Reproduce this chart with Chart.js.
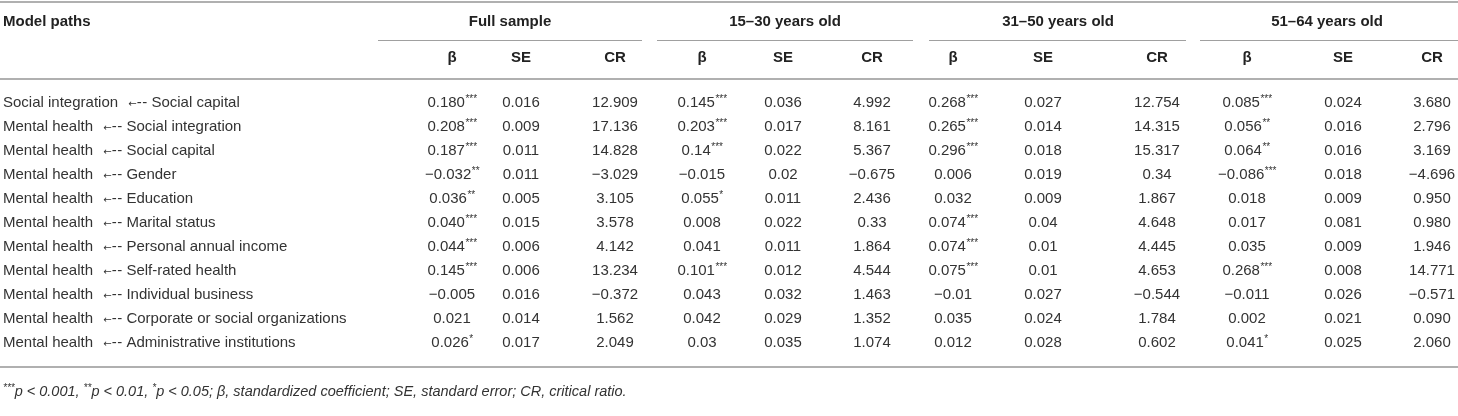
<!DOCTYPE html>
<html>
<head>
<meta charset="utf-8">
<script src="https://cdn.jsdelivr.net/npm/chart.js@4/dist/chart.umd.min.js"></script>
<style>
  body { margin: 0; background: #fff; }
  canvas { display: block; }
</style>
</head>
<body>
<canvas id="table" width="1458" height="416"></canvas>
<script>
// --- table content ---
const pathLabels = [
  'Social integration ←-- Social capital',
  'Mental health ←-- Social integration',
  'Mental health ←-- Social capital',
  'Mental health ←-- Gender',
  'Mental health ←-- Education',
  'Mental health ←-- Marital status',
  'Mental health ←-- Personal annual income',
  'Mental health ←-- Self-rated health',
  'Mental health ←-- Individual business',
  'Mental health ←-- Corporate or social organizations',
  'Mental health ←-- Administrative institutions'
];
const groupNames = ['Full sample', '15–30 years old', '31–50 years old', '51–64 years old'];
const subHeads = ['β', 'SE', 'CR'];

const fullBeta = ['0.180***', '0.208***', '0.187***', '−0.032**', '0.036**', '0.040***', '0.044***', '0.145***', '−0.005', '0.021', '0.026*'];
const fullSE   = ['0.016', '0.009', '0.011', '0.011', '0.005', '0.015', '0.006', '0.006', '0.016', '0.014', '0.017'];
const fullCR   = ['12.909', '17.136', '14.828', '−3.029', '3.105', '3.578', '4.142', '13.234', '−0.372', '1.562', '2.049'];

const youngBeta = ['0.145***', '0.203***', '0.14***', '−0.015', '0.055*', '0.008', '0.041', '0.101***', '0.043', '0.042', '0.03'];
const youngSE   = ['0.036', '0.017', '0.022', '0.02', '0.011', '0.022', '0.011', '0.012', '0.032', '0.029', '0.035'];
const youngCR   = ['4.992', '8.161', '5.367', '−0.675', '2.436', '0.33', '1.864', '4.544', '1.463', '1.352', '1.074'];

const midBeta = ['0.268***', '0.265***', '0.296***', '0.006', '0.032', '0.074***', '0.074***', '0.075***', '−0.01', '0.035', '0.012'];
const midSE   = ['0.027', '0.014', '0.018', '0.019', '0.009', '0.04', '0.01', '0.01', '0.027', '0.024', '0.028'];
const midCR   = ['12.754', '14.315', '15.317', '0.34', '1.867', '4.648', '4.445', '4.653', '−0.544', '1.784', '0.602'];

const oldBeta = ['0.085***', '0.056**', '0.064**', '−0.086***', '0.018', '0.017', '0.035', '0.268***', '−0.011', '0.002', '0.041*'];
const oldSE   = ['0.024', '0.016', '0.016', '0.018', '0.009', '0.081', '0.009', '0.008', '0.026', '0.021', '0.025'];
const oldCR   = ['3.680', '2.796', '3.169', '−4.696', '0.950', '0.980', '1.946', '14.771', '−0.571', '0.090', '2.060'];

const footnote = '***p < 0.001, **p < 0.01, *p < 0.05; β, standardized coefficient; SE, standard error; CR, critical ratio.';

// --- layout (x in scale units across the width, y in row units) ---
const columns = [fullBeta, fullSE, fullCR, youngBeta, youngSE, youngCR, midBeta, midSE, midCR, oldBeta, oldSE, oldCR];
const colX = [452, 521, 615, 702, 783, 872, 953, 1043, 1157, 1247, 1343, 1432];
const groupX = [510, 785, 1058, 1327];
const groupSpan = [[378, 642], [657, 913], [929, 1186], [1200, 1458]];
const labelX = 3;
const headRow1 = -3.375, headRow2 = -1.875, footRow = 12.04;

const FONT = '"Liberation Sans", Arial, Helvetica, sans-serif';

const cellData = [];
columns.forEach((col, c) => col.forEach((t, r) => cellData.push({ x: colX[c], y: r, t: t })));

const rules = [
  { y: -4.21, x0: 0, x1: 1458, w: 2, color: '#b0b0b0' },
  { y: -1.0, x0: 0, x1: 1458, w: 2, color: '#b0b0b0' },
  { y: 11.0, x0: 0, x1: 1458, w: 2, color: '#b0b0b0' }
].concat(groupSpan.map(s => ({ y: -2.625, x0: s[0], x1: s[1], w: 1, color: '#a0a0a0' })));

// path label: small arrow head at dash height, then two spaced dashes
function drawPath(ctx, text, x, y, opt) {
  const parts = text.split('←--');
  const font = opt.size + 'px ' + FONT;
  ctx.fillStyle = opt.color;
  ctx.textAlign = 'left';
  ctx.textBaseline = 'middle';
  ctx.font = font;
  ctx.fillText(parts[0], x, y);
  let cx = x + ctx.measureText(parts[0]).width;
  if (parts.length > 1) {
    const span = ctx.measureText('←--').width;
    const dashW = ctx.measureText('-').width;
    ctx.fillText('-', cx + span - dashW, y);
    ctx.fillText('-', cx + span - 2 * dashW - 0.5, y);
    ctx.font = '10px "DejaVu Sans", sans-serif';
    const arrowW = ctx.measureText('←').width;
    ctx.fillText('←', cx + span - 2 * dashW - arrowW - 0.5, y + 1);
    ctx.font = font;
    ctx.fillText(parts[1], cx + span, y);
  }
}

function drawCell(ctx, text, x, y, opt) {
  const m = text.match(/^(.*?)(\**)$/);
  const main = m[1], stars = m[2];
  const mainFont = (opt.weight || '400') + ' ' + opt.size + 'px ' + FONT;
  const starFont = '400 ' + Math.round(opt.size * 0.68) + 'px ' + FONT;
  ctx.font = mainFont;
  const w1 = ctx.measureText(main).width;
  ctx.font = starFont;
  const w2 = stars ? ctx.measureText(stars).width : 0;
  const left = opt.align === 'left' ? x : x - (w1 + w2) / 2;
  ctx.fillStyle = opt.color;
  ctx.textAlign = 'left';
  ctx.textBaseline = 'middle';
  ctx.font = mainFont;
  ctx.fillText(main, left, y);
  if (stars) {
    ctx.font = starFont;
    ctx.fillText(stars, left + w1 + 0.5, y - 4);
  }
}

function drawFootnote(ctx, text, x, y) {
  const parts = text.split(/(\*+)/).filter(s => s.length);
  let cx = x;
  ctx.textAlign = 'left';
  ctx.textBaseline = 'middle';
  ctx.fillStyle = '#333';
  parts.forEach(p => {
    if (/^\*+$/.test(p)) {
      ctx.font = 'italic 400 10px ' + FONT;
      ctx.fillText(p, cx, y - 4);
    } else {
      ctx.font = 'italic 400 14.5px ' + FONT;
      ctx.fillText(p, cx, y);
    }
    cx += ctx.measureText(p).width;
  });
}

const tablePlugin = {
  id: 'tableText',
  afterDatasetsDraw(chart) {
    const ctx = chart.ctx;
    const xs = chart.scales.x, ys = chart.scales.y;
    ctx.save();
    rules.forEach(r => {
      ctx.strokeStyle = r.color;
      ctx.lineWidth = r.w;
      let py = Math.round(ys.getPixelForValue(r.y));
      if (r.w % 2) py += 0.5;
      ctx.beginPath();
      ctx.moveTo(xs.getPixelForValue(r.x0), py);
      ctx.lineTo(xs.getPixelForValue(r.x1), py);
      ctx.stroke();
    });
    chart.data.datasets.forEach((ds, i) => {
      const meta = chart.getDatasetMeta(i);
      meta.data.forEach((pt, j) => {
        const d = ds.data[j];
        if (ds.footnote) drawFootnote(ctx, d.t, pt.x, pt.y);
        else if (ds.paths) drawPath(ctx, d.t, pt.x, pt.y, ds.cell);
        else drawCell(ctx, d.t, pt.x, pt.y, ds.cell);
      });
    });
    ctx.restore();
  }
};

const datasets = [
  {
    label: 'paths',
    data: pathLabels.map((t, r) => ({ x: labelX, y: r, t: t })),
    paths: true,
    cell: { size: 15, align: 'left', color: '#333' }
  },
  {
    label: 'cells',
    data: cellData,
    cell: { size: 15, align: 'center', color: '#333' }
  },
  {
    label: 'head1',
    data: [{ x: labelX, y: headRow1, t: 'Model paths' }],
    cell: { size: 15, weight: '700', align: 'left', color: '#222' }
  },
  {
    label: 'groups',
    data: groupNames.map((t, g) => ({ x: groupX[g], y: headRow1, t: t })),
    cell: { size: 15, weight: '700', align: 'center', color: '#222' }
  },
  {
    label: 'subheads',
    data: colX.map((x, c) => ({ x: x, y: headRow2, t: subHeads[c % 3] })),
    cell: { size: 15, weight: '700', align: 'center', color: '#222' }
  },
  {
    label: 'footnote',
    data: [{ x: labelX, y: footRow, t: footnote }],
    footnote: true
  }
];
datasets.forEach(ds => { ds.pointRadius = 0; ds.showLine = false; });

new Chart(document.getElementById('table'), {
  type: 'scatter',
  data: { datasets: datasets },
  options: {
    responsive: false,
    animation: false,
    devicePixelRatio: 1,
    layout: { padding: 0 },
    plugins: { legend: { display: false }, tooltip: { enabled: false } },
    events: [],
    scales: {
      x: { type: 'linear', display: false, min: 0, max: 1458 },
      y: { type: 'linear', display: false, reverse: true, min: -103 / 24, max: (416 - 103) / 24 }
    }
  },
  plugins: [tablePlugin]
});
</script>
</body>
</html>
